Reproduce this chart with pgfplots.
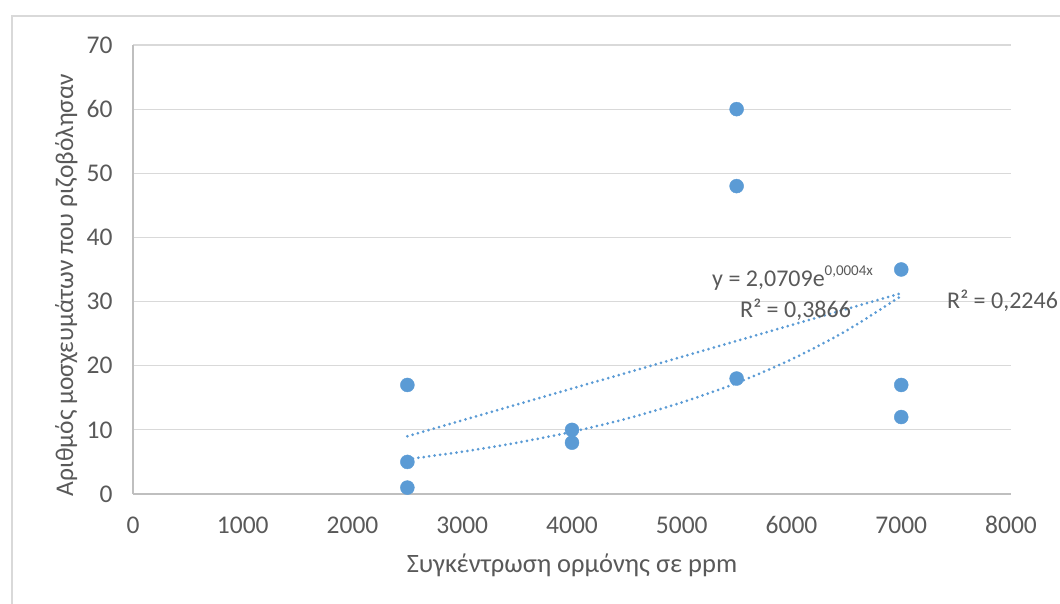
\documentclass[border=0pt]{standalone}
\usepackage{fontspec}
\setmainfont{Carlito}
\usepackage{pgfplots}
\pgfplotsset{compat=1.18}
\definecolor{ptblue}{HTML}{5B9BD5}
\definecolor{txtgray}{HTML}{595959}
\definecolor{gridgray}{HTML}{D9D9D9}
\definecolor{axgray}{HTML}{BFBFBF}

\begin{document}
\begin{tikzpicture}[x=1pt,y=1pt]
\useasboundingbox (0,0) rectangle (1060,604);
\begin{scope}
  \clip (0,0) rectangle (1060,604);
  \draw[line width=1.5pt, gridgray] (12,-20) rectangle (1080,588);
\end{scope}
\begin{axis}[
    at={(133pt,110pt)}, anchor=south west,
    scale only axis, width=878pt, height=449pt,
    xmin=0, xmax=8000, ymin=0, ymax=70,
    xtick={0,1000,...,8000}, ytick={0,10,...,70},
    axis x line*=bottom, axis y line*=left,
    axis line style={axgray, line width=1.2pt, -},
    ymajorgrids, grid style={gridgray, line width=1.2pt},
    major tick length=0pt,
    tick label style={font=\fontsize{25.5}{27}\selectfont, text=txtgray},
    yticklabel style={xshift=-17pt},
    xticklabel style={yshift=-19pt},
    /pgf/number format/assume math mode=true,
    /pgf/number format/1000 sep={},
    xlabel={Συγκέντρωση ορμόνης σε ppm},
    ylabel={Αριθμός μοσχευμάτων που ριζοβόλησαν},
    label style={font=\fontsize{26.5}{28}\selectfont, text=txtgray},
    xlabel style={at={(axis description cs:0.5,0)}, anchor=center, yshift=-71pt},
    ylabel style={at={(axis description cs:-0.076,0.4655)}, anchor=center,
                  font=\fontsize{25.5}{27}\selectfont},
    clip=false,
]
% measurements
\addplot[only marks, mark=*, mark size=7pt, color=ptblue,
         mark options={fill=ptblue, draw=ptblue}] coordinates {
    (2500,17) (2500,5) (2500,1)
    (4000,10) (4000,8)
    (5500,60) (5500,48) (5500,18)
    (7000,35) (7000,17) (7000,12)
};
% linear trendline
\addplot[ptblue, line width=3pt, dash pattern=on 0pt off 5.5pt, line cap=round]
    coordinates {(2500,9.0) (7000,31.3)};
% exponential trendline
\addplot[ptblue, line width=3pt, dash pattern=on 0pt off 5.5pt, line cap=round, smooth]
    coordinates {
    (2500,5.43) (3000,6.59) (3500,8.00) (4000,9.70) (4500,11.76)
    (5000,14.27) (5500,17.30) (6000,20.99) (6500,25.46) (7000,30.88)
};
\node[anchor=west, txtgray, font=\fontsize{24}{26}\selectfont, inner sep=0pt]
    at (axis cs:5276,33.7) {y = 2,0709e\raisebox{0.45em}{\fontsize{15}{15}\selectfont 0,0004x}};
\node[anchor=west, txtgray, font=\fontsize{24}{26}\selectfont, inner sep=0pt]
    at (axis cs:5531,28.7) {R² = 0,3866};
\node[anchor=west, txtgray, font=\fontsize{24}{26}\selectfont, inner sep=0pt]
    at (axis cs:7417,30.2) {R² = 0,2246};
\end{axis}
\end{tikzpicture}
\end{document}
